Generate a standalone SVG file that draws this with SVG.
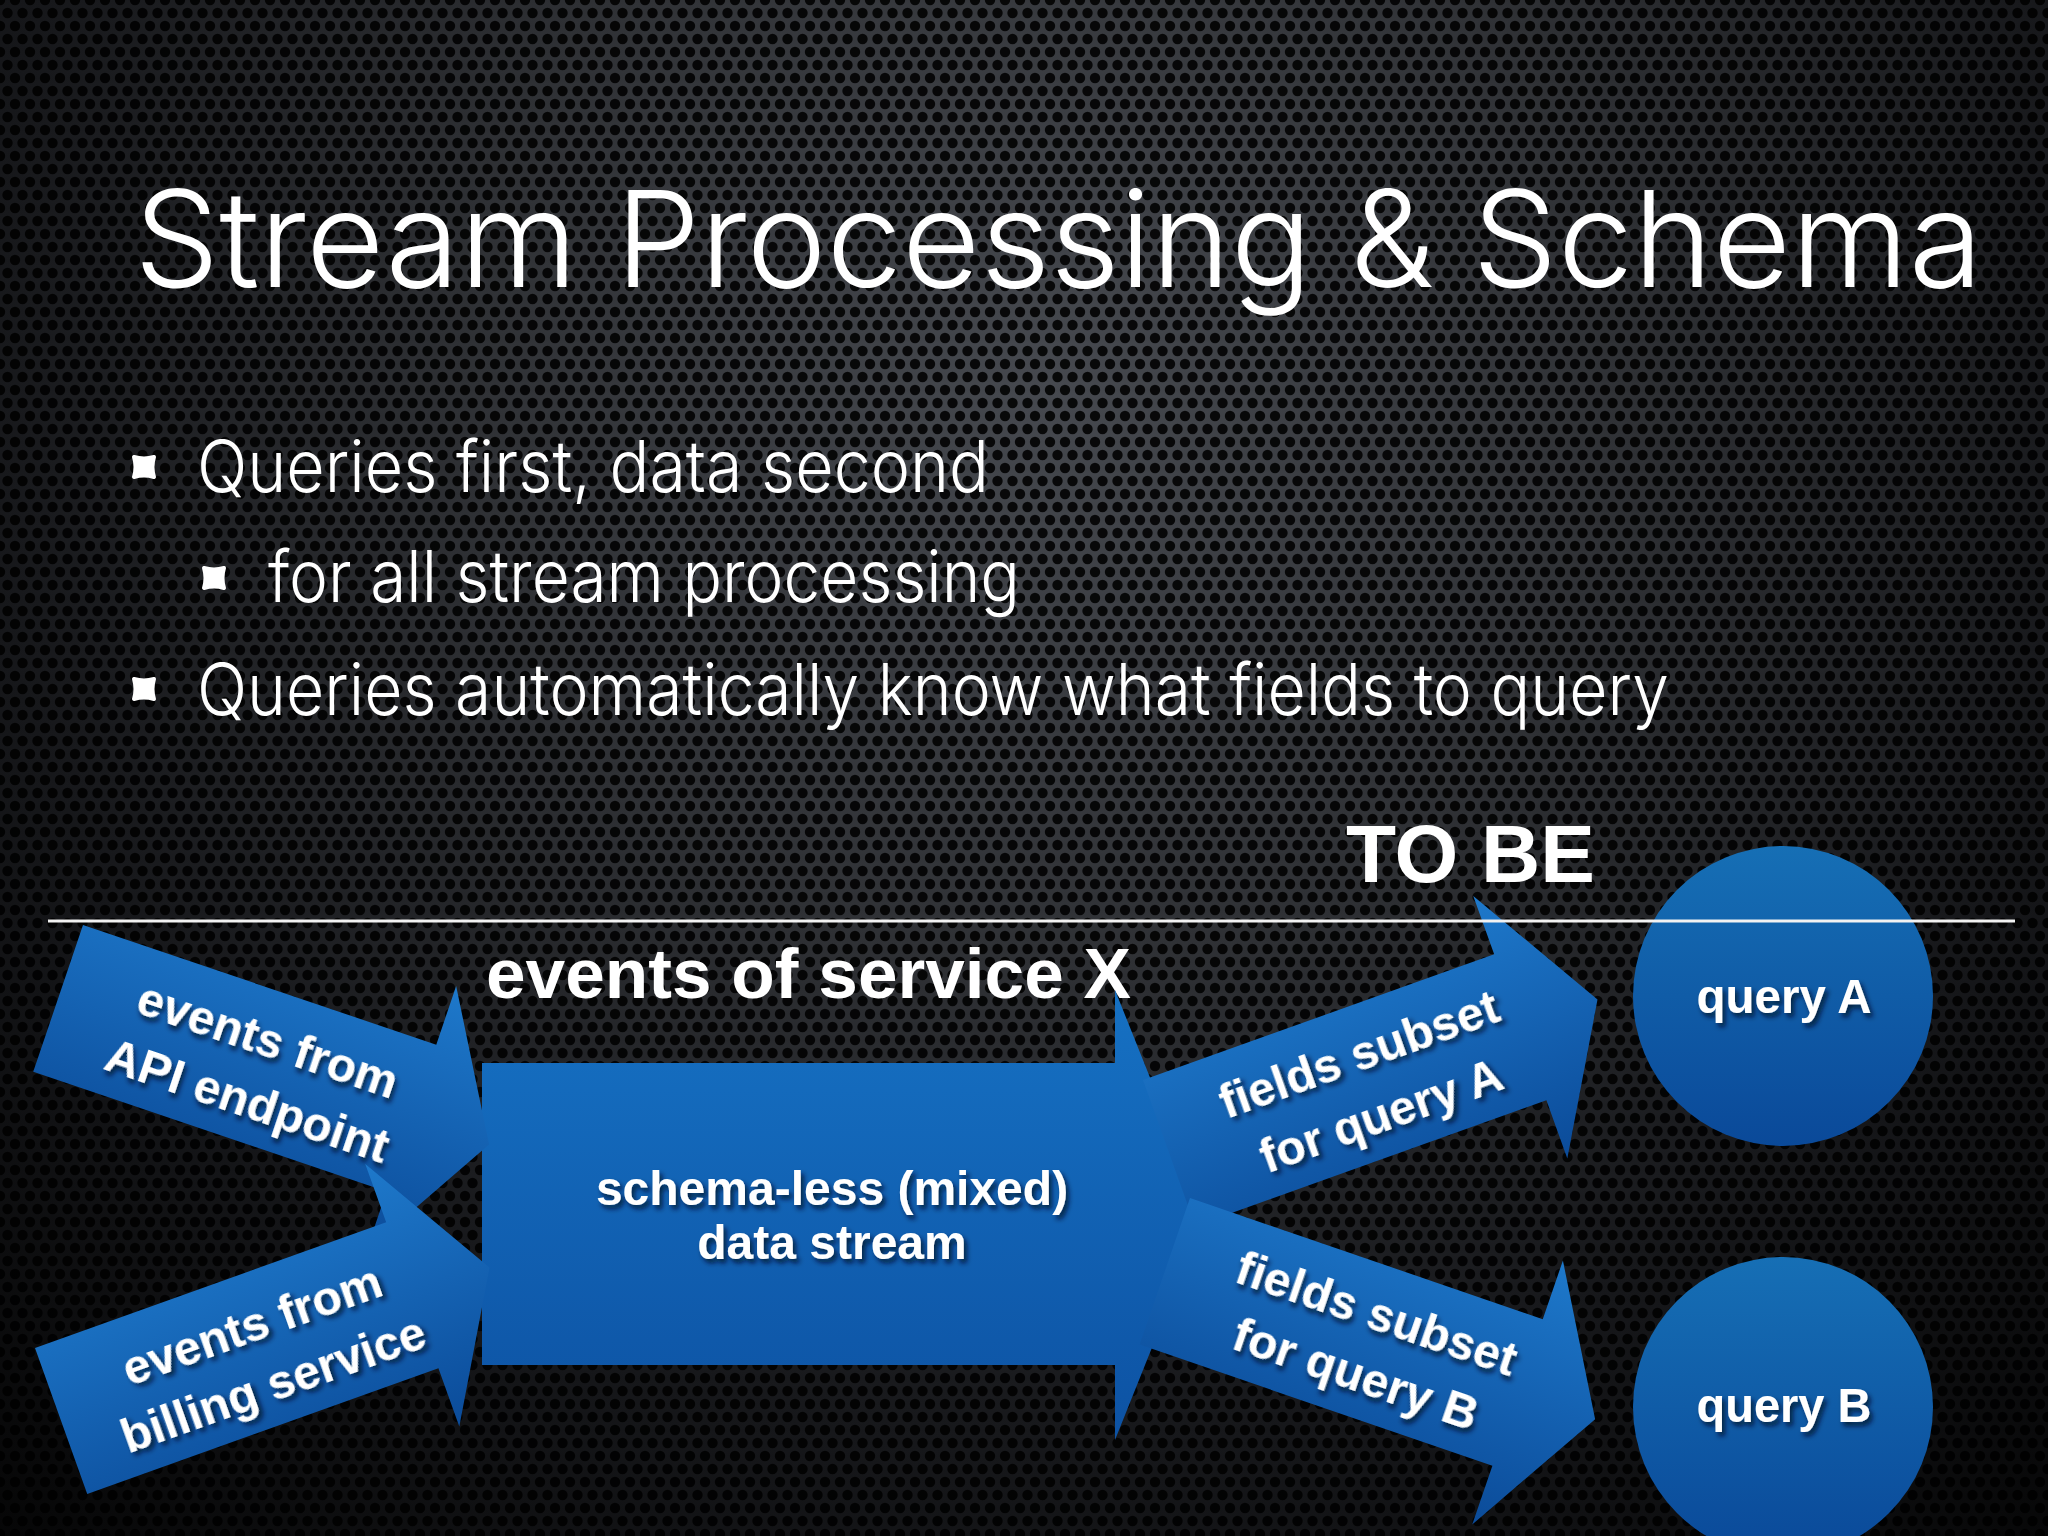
<svg xmlns="http://www.w3.org/2000/svg" xmlns:xlink="http://www.w3.org/1999/xlink" width="2048" height="1536" viewBox="0 0 2048 1536">
  <defs>
    <radialGradient id="bgGrad" gradientUnits="userSpaceOnUse" cx="1050" cy="380" r="1650">
      <stop offset="0" stop-color="#46494f"/>
      <stop offset="0.35" stop-color="#2f3135"/>
      <stop offset="0.65" stop-color="#16171a"/>
      <stop offset="1" stop-color="#030303"/>
    </radialGradient>
    <pattern id="mesh" patternUnits="userSpaceOnUse" width="15" height="26">
      <circle cx="0" cy="0" r="5.2" fill="#000"/>
      <circle cx="15" cy="0" r="5.2" fill="#000"/>
      <circle cx="0" cy="26" r="5.2" fill="#000"/>
      <circle cx="15" cy="26" r="5.2" fill="#000"/>
      <circle cx="7.5" cy="13" r="5.2" fill="#000"/>
    </pattern>
    <linearGradient id="blueArrow" x1="0" y1="0" x2="0" y2="1">
      <stop offset="0" stop-color="#1e79cb"/>
      <stop offset="1" stop-color="#0b4b99"/>
    </linearGradient>
    <linearGradient id="blueMain" x1="0" y1="0" x2="0" y2="1">
      <stop offset="0" stop-color="#1671c3"/>
      <stop offset="1" stop-color="#0d52a3"/>
    </linearGradient>
    <linearGradient id="blueCircle" x1="0" y1="0" x2="0" y2="1">
      <stop offset="0" stop-color="#166fb5"/>
      <stop offset="1" stop-color="#0a4999"/>
    </linearGradient>
    <filter id="txtShadow" x="-10%" y="-30%" width="130%" height="170%">
      <feDropShadow dx="3" dy="4" stdDeviation="2.5" flood-color="#001028" flood-opacity="0.8"/>
    </filter>
    <path id="arrowShape" d="M0,0 L373,0 L373,-62 L455,77.5 L373,217 L373,155 L0,155 Z"/>
    <path id="bulletShape" d="M-10,-10 Q0,-7 10,-10 Q7,0 10,10 Q0,7 -10,10 Q-7,0 -10,-10 Z"/>
    <style>
      .light { font-family: "Inter", "Liberation Sans", "Noto Sans", sans-serif; font-weight: 300; fill: #ffffff; }
      .bold { font-family: "Liberation Sans", "Noto Sans", sans-serif; font-weight: bold; fill: #ffffff; }
      .lbl { font-family: "Liberation Sans", "Noto Sans", sans-serif; font-weight: bold; fill: #ffffff; font-size: 48px; text-anchor: middle; filter: url(#txtShadow); }
      .arrow { fill: url(#blueArrow); }
      .bullet { fill: #ffffff; stroke: #ffffff; stroke-width: 4; stroke-linejoin: round; }
    </style>
  </defs>

  <!-- background -->
  <rect x="0" y="0" width="2048" height="1536" fill="url(#bgGrad)"/>
  <rect x="0" y="0" width="2048" height="1536" fill="url(#mesh)" opacity="0.88"/>

  <!-- title and bullets -->
  <text class="light" x="134" y="287" font-size="134" textLength="1849" lengthAdjust="spacingAndGlyphs">Stream Processing &amp; Schema</text>
  <use href="#bulletShape" class="bullet" transform="translate(144,467)"/>
  <text class="light" x="197" y="492" font-size="72" textLength="792" lengthAdjust="spacingAndGlyphs">Queries first, data second</text>
  <use href="#bulletShape" class="bullet" transform="translate(214,578)"/>
  <text class="light" x="268" y="602" font-size="72" textLength="752" lengthAdjust="spacingAndGlyphs">for all stream processing</text>
  <use href="#bulletShape" class="bullet" transform="translate(144,689)"/>
  <text class="light" x="197" y="715" font-size="72" textLength="1472" lengthAdjust="spacingAndGlyphs">Queries automatically know what fields to query</text>

  <text class="bold" x="1346" y="882" font-size="82" textLength="249" lengthAdjust="spacingAndGlyphs">TO BE</text>
  <text class="bold" x="486" y="998" font-size="70" textLength="645" lengthAdjust="spacingAndGlyphs">events of service X</text>

  <!-- central stream node -->
  <g id="node-stream">
    <path d="M482,1063 L1115,1063 L1115,990 L1205,1215 L1115,1440 L1115,1365 L482,1365 Z" fill="url(#blueMain)"/>
    <text class="lbl" x="832" y="1205">schema-less (mixed)</text>
    <text class="lbl" x="832" y="1259">data stream</text>
  </g>

  <!-- input arrows -->
  <g id="node-api" transform="translate(83,925) rotate(18.72)">
    <use href="#arrowShape" class="arrow"/>
    <text class="lbl" x="212" y="66">events from</text>
    <text class="lbl" x="212" y="130">API endpoint</text>
  </g>
  <g id="node-billing" transform="translate(35,1348) rotate(-19.7)">
    <use href="#arrowShape" class="arrow"/>
    <text class="lbl" x="212" y="68">events from</text>
    <text class="lbl" x="212" y="131">billing service</text>
  </g>

  <!-- output arrows -->
  <g id="node-fieldsA" transform="translate(1143,1080) rotate(-19.7)">
    <use href="#arrowShape" class="arrow"/>
    <text class="lbl" x="212" y="65">fields subset</text>
    <text class="lbl" x="212" y="130">for query A</text>
  </g>
  <g id="node-fieldsB" transform="translate(1190,1198) rotate(18.96)">
    <use href="#arrowShape" class="arrow"/>
    <text class="lbl" x="214" y="65">fields subset</text>
    <text class="lbl" x="214" y="129">for query B</text>
  </g>

  <!-- queries -->
  <g id="node-queryA">
    <circle cx="1783" cy="996" r="150" fill="url(#blueCircle)"/>
    <text class="lbl" x="1784" y="1013" textLength="175" lengthAdjust="spacingAndGlyphs">query A</text>
  </g>
  <g id="node-queryB">
    <circle cx="1783" cy="1407" r="150" fill="url(#blueCircle)"/>
    <text class="lbl" x="1784" y="1422" textLength="175" lengthAdjust="spacingAndGlyphs">query B</text>
  </g>

  <!-- separator line -->
  <g id="separator">
    <line x1="48" y1="921" x2="2015" y2="921" stroke="#f2f2f2" stroke-width="3"/>
  </g>
</svg>
